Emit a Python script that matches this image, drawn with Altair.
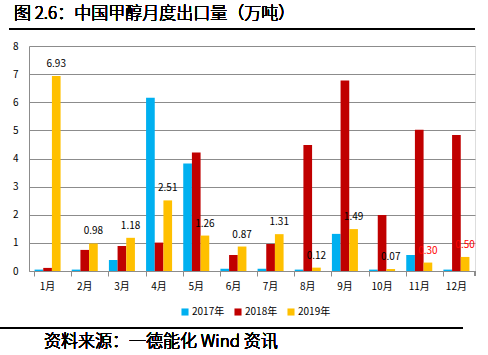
import altair as alt
import pandas as pd

months = ["1月", "2月", "3月", "4月", "5月", "6月", "7月", "8月", "9月", "10月", "11月", "12月"]
years = ["2017年", "2018年", "2019年"]
v2017 = [0.05, 0.05, 0.39, 6.16, 3.82, 0.08, 0.08, 0.05, 1.32, 0.05, 0.57, 0.05]
v2018 = [0.11, 0.75, 0.89, 1.01, 4.21, 0.57, 0.96, 4.48, 6.77, 1.99, 5.02, 4.84]
v2019 = [6.93, 0.98, 1.18, 2.51, 1.26, 0.87, 1.31, 0.12, 1.49, 0.07, 0.30, 0.50]
colors = ["#00B0F0", "#C00000", "#FFC000"]

title_text = "图 2.6：中国甲醇月度出口量（万吨）"
source_text = "资料来源：一德能化  Wind 资讯"

rows = []
for y, vals in zip(years, [v2017, v2018, v2019]):
    for m, v in zip(months, vals):
        rows.append({"month": m, "year": y, "value": v})
df = pd.DataFrame(rows)
df19 = pd.DataFrame({"month": months, "year": "2019年", "value": v2019})

FONT = "Noto Sans CJK SC"

x_enc = alt.X("month:N", sort=months, title=None,
              scale=alt.Scale(paddingInner=0.3, paddingOuter=0.15),
              axis=alt.Axis(labelAngle=0, bandPosition=0, tickSize=5, labelPadding=5,
                            labelFontSize=10, labelFont=FONT, labelColor="#000000",
                            domainColor="#8c8c8c", tickColor="#8c8c8c", grid=False))
y_enc = alt.Y("value:Q", title=None,
              scale=alt.Scale(domain=[0, 8], nice=False),
              axis=alt.Axis(values=[0, 1, 2, 3, 4, 5, 6, 7, 8], labelOverlap=False,
                            ticks=False, labelPadding=11,
                            labelFontSize=10, labelFont=FONT, labelColor="#000000",
                            domainColor="#8c8c8c", gridColor="#8c8c8c", gridWidth=1))
off_enc = alt.XOffset("year:N", sort=years)

bars = alt.Chart(df).mark_bar().encode(
    x=x_enc,
    y=y_enc,
    xOffset=off_enc,
    color=alt.Color("year:N", sort=years,
                    scale=alt.Scale(domain=years, range=colors),
                    legend=alt.Legend(title=None, orient="none", direction="horizontal",
                                      legendX=151, legendY=261, symbolType="square",
                                      symbolSize=50, symbolStrokeWidth=0,
                                      labelFont=FONT, labelFontSize=10, labelColor="#000000",
                                      columnPadding=8, labelOffset=2)),
)

labels = alt.Chart(df19).mark_text(dy=-12, fontSize=10, font=FONT, fontWeight=400).encode(
    x=x_enc,
    xOffset=off_enc,
    y=y_enc,
    text=alt.Text("value:Q", format=".2f"),
    color=alt.condition("datum.month == '11月' || datum.month == '12月'",
                        alt.value("#FF0000"), alt.value("#000000")),
)

end_tick = alt.Chart(df19).mark_rule(color="#8c8c8c").encode(
    x=alt.value(446), y=alt.value(225), y2=alt.value(230))

title = alt.Chart(df19).mark_text(align="left", baseline="middle", fontSize=17,
                                  font=FONT, fontWeight=300, color="#000000").encode(
    x=alt.value(-15), y=alt.value(-32), text=alt.value(title_text))
title_line = alt.Chart(df19).mark_rule(color="#000000", strokeWidth=2).encode(
    x=alt.value(-20), x2=alt.value(446), y=alt.value(-17))

source = alt.Chart(df19).mark_text(align="left", baseline="middle", fontSize=17,
                                   font=FONT, fontWeight=300, color="#000000").encode(
    x=alt.value(15), y=alt.value(296), text=alt.value(source_text))
bottom_line = alt.Chart(df19).mark_rule(color="#000000", strokeWidth=2).encode(
    x=alt.value(-29), x2=alt.value(434), y=alt.value(282))

chart = alt.layer(bars, labels, end_tick, title, title_line, source, bottom_line).properties(
    width=446, height=225,
    autosize=alt.AutoSizeParams(type="none"),
    padding={"left": 29, "top": 46, "right": 13, "bottom": 84},
).configure_view(stroke=None).configure(background="white")

chart.save("out.html", embed_options={"renderer": "svg", "actions": False})
